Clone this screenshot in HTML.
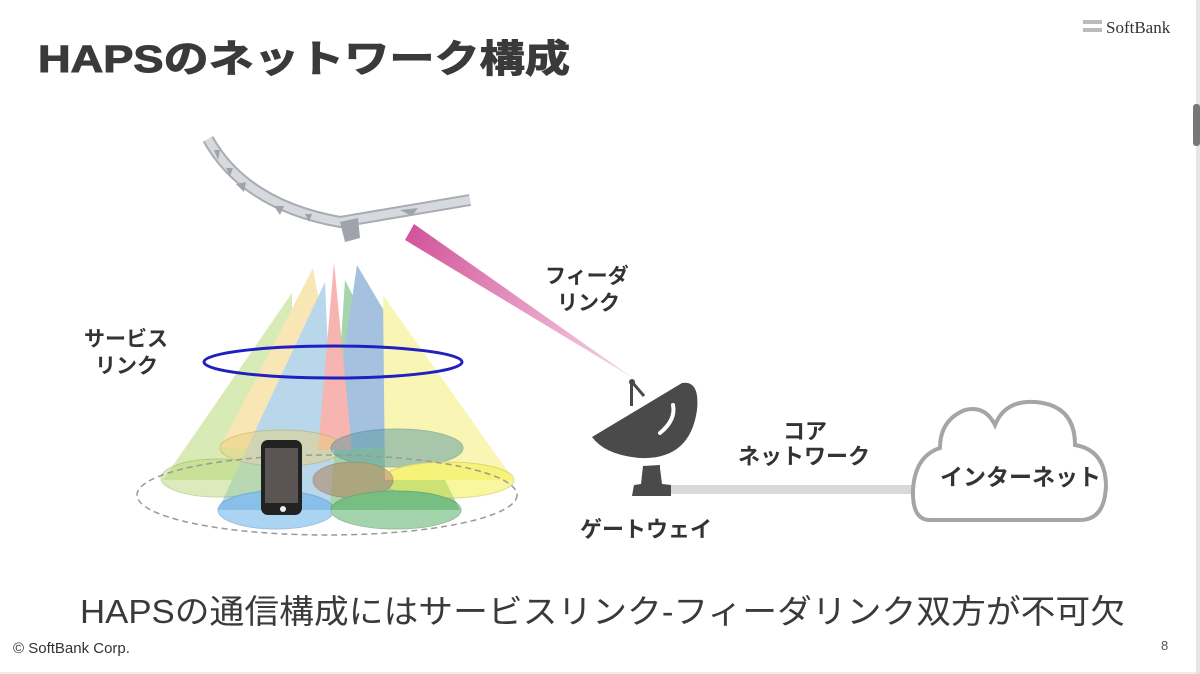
<!DOCTYPE html>
<html><head><meta charset="utf-8"><style>
html,body{margin:0;padding:0;background:#fff;}
svg{display:block;}
text{font-family:"Liberation Sans","Noto Sans CJK JP",sans-serif;}
</style></head><body>
<svg width="1200" height="674" viewBox="0 0 1200 674" xmlns="http://www.w3.org/2000/svg">
<defs>
<linearGradient id="feed" x1="410" y1="232" x2="633" y2="378" gradientUnits="userSpaceOnUse">
<stop offset="0" stop-color="#d2559c"/><stop offset="1" stop-color="#f6d8e4"/></linearGradient>
</defs>
<rect width="1200" height="674" fill="#fff"/>
<rect x="1196" y="0" width="4" height="674" fill="#e6e6e6"/>
<rect x="1193" y="104" width="7" height="42" rx="3" fill="#777"/>
<line x1="0" y1="673" x2="1200" y2="673" stroke="#ddd"/>
<!-- header -->
<text x="38" y="72" font-size="38" font-weight="bold" fill="#3a3a3a" stroke="#3a3a3a" stroke-width="1" textLength="532" lengthAdjust="spacingAndGlyphs">HAPSのネットワーク構成</text>
<rect x="1083" y="20" width="19" height="4" fill="#bbb"/><rect x="1083" y="28" width="19" height="4" fill="#bbb"/>
<text x="1106" y="33" font-size="17" fill="#333" style="font-family:'Liberation Serif',serif">SoftBank</text>
<!-- plane -->
<path d="M208 139 Q245 205 340 222 L470 200" stroke="#a8abb2" stroke-width="12" fill="none" stroke-linejoin="round"/>
<path d="M208 139 Q245 205 340 222 L470 200" stroke="#d6d9de" stroke-width="8" fill="none" stroke-linejoin="round"/>
<g fill="#a0a3a9">
<polygon points="236,184 246,182 244,192"/>
<polygon points="274,206 284,206 280,215"/>
<polygon points="305,214 312,214 309,222"/>
<polygon points="340,222 358,218 360,238 345,242"/>
<polygon points="400,210 418,208 412,216"/>
<polygon points="214,150 220,150 218,160"/>
<polygon points="226,168 233,168 230,176"/>
</g>
<!-- feeder beam -->
<polygon points="405,240 414,224 633,378" fill="url(#feed)"/>
<!-- beams -->
<g opacity="0.55">
<polygon points="292,293 163,480 292,480" fill="#b9d97a"/>
<polygon points="313,268 220,448 345,448" fill="#f4d27a"/>
<polygon points="325,282 218,510 335,510" fill="#7fb8dc"/>
<polygon points="345,280 330,510 460,510" fill="#5fb26a"/>
<polygon points="357,265 330,448 465,448" fill="#5a8fc8"/>
<polygon points="383,295 385,480 514,480" fill="#f5f07a"/>
<polygon points="334,262 318,450 352,450" fill="#f07a70"/>
</g>
<g opacity="0.5" stroke-width="1">
<ellipse cx="218" cy="478" rx="57" ry="19" fill="#b9d97a" stroke="#8fb050"/>
<ellipse cx="282" cy="448" rx="62" ry="18" fill="#e8d27a" stroke="#c0a850"/>
<ellipse cx="397" cy="448" rx="66" ry="19" fill="#5a9aa0" stroke="#407a80"/>
<ellipse cx="448" cy="480" rx="66" ry="18" fill="#f5f040" stroke="#c0b830"/>
<ellipse cx="353" cy="480" rx="40" ry="18" fill="#b07a50" stroke="#906040"/>
<ellipse cx="276" cy="510" rx="58" ry="19" fill="#5aaae8" stroke="#3a80c0"/>
<ellipse cx="396" cy="510" rx="65" ry="19" fill="#4aaa5a" stroke="#308040"/>
</g>
<ellipse cx="327" cy="495" rx="190" ry="40" fill="none" stroke="#999" stroke-width="1.5" stroke-dasharray="6,4"/>
<ellipse cx="333" cy="362" rx="129" ry="16" fill="none" stroke="#2020c0" stroke-width="3"/>
<!-- phone -->
<rect x="261" y="440" width="41" height="75" rx="7" fill="#222"/>
<rect x="265" y="448" width="33" height="55" fill="#5a5552"/>
<circle cx="283" cy="509" r="3" fill="#eee"/>
<!-- labels -->
<g font-size="21" font-weight="bold" fill="#333">
<text x="84" y="346">サービス</text><text x="95" y="373">リンク</text>
<text x="545" y="283">フィーダ</text><text x="557" y="310">リンク</text>
<text x="783" y="439" font-size="22">コア</text><text x="738" y="464" font-size="22">ネットワーク</text>
<text x="580" y="537" font-size="22">ゲートウェイ</text>
</g>
<!-- dish -->
<g fill="#4a4a4a">
<circle cx="632" cy="382" r="3"/>
<rect x="630" y="382" width="3" height="24"/>
<line x1="632" y1="382" x2="644" y2="396" stroke="#4a4a4a" stroke-width="3"/>
<path d="M592 437 L682 383 Q700 380 697 410 Q690 460 640 458 Q605 455 592 437Z"/>
<path d="M643 466 L660 465 L660 468 L662 484 L671 485 L671 496 L632 496 L634 485 L641 484 Z"/>
</g>
<path d="M673 405 Q676 420 660 433" stroke="#fff" stroke-width="4" fill="none" stroke-linecap="round"/>
<rect x="671" y="485" width="246" height="9" fill="#d9d9d9"/>
<!-- cloud -->
<path d="M930 520 Q912 520 913 490 Q915 456 940 448 Q940 420 965 410 Q985 405 995 425 Q1005 400 1035 402 Q1075 405 1075 445 Q1105 450 1106 485 Q1105 520 1080 520 Z" fill="#fff" stroke="#a5a5a5" stroke-width="4"/>
<text x="940" y="485" font-size="23" font-weight="bold" fill="#333">インターネット</text>
<!-- bottom -->
<text x="80" y="623" font-size="33" fill="#3a3a3a" textLength="1045" lengthAdjust="spacingAndGlyphs">HAPSの通信構成にはサービスリンク-フィーダリンク双方が不可欠</text>
<text x="13" y="653" font-size="15" fill="#333">© SoftBank Corp.</text>
<text x="1161" y="650" font-size="13" fill="#555">8</text>
</svg>
</body></html>
